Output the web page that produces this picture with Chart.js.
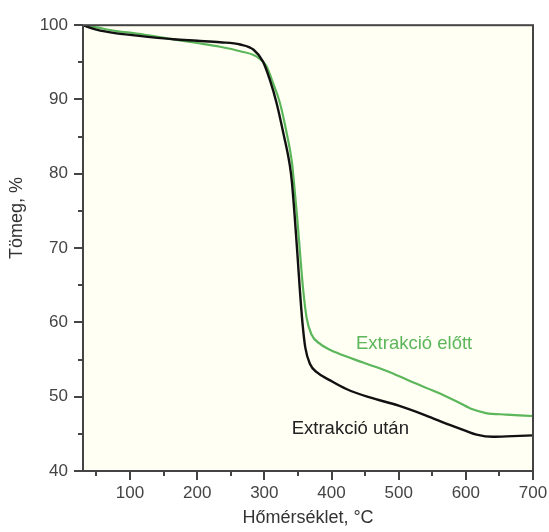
<!DOCTYPE html>
<html>
<head>
<meta charset="utf-8">
<script src="https://cdn.jsdelivr.net/npm/chart.js@4.4.1/dist/chart.umd.min.js"></script>
<style>
html,body{margin:0;padding:0;background:#fff;}
#wrap{width:549px;height:532px;position:relative;}
</style>
</head>
<body>
<div id="wrap"><canvas id="c" width="549" height="532"></canvas></div>
<script>
// Data (temperature °C, mass %)
const tempAfter = [30,50,80,100,130,165,200,234,264,284,298,308,318,328,338,341,345,349,353,357,361,368,378,398,423,457,500,540,576,600,616,640,670,700];
const massAfter = [100,99.4,98.9,98.7,98.4,98.1,97.9,97.7,97.4,96.7,95.1,92.7,89.6,85.6,81.1,78.9,74.5,69.5,64.2,59.7,56.6,54.4,53.3,52.2,51.0,49.9,48.8,47.5,46.2,45.4,44.9,44.6,44.7,44.8];
const tempBefore = [30,50,80,100,130,165,200,234,264,288,303,313,323,333,341,344,349,353,358,363,370,383,408,447,487,522,557,590,610,630,660,700];
const massBefore = [100,99.7,99.2,99.0,98.6,98.1,97.6,97.1,96.5,95.8,94.5,92.2,89.6,85.6,81.6,78.9,74.0,69.5,64.2,60.6,58.4,57.1,55.9,54.6,53.3,51.9,50.6,49.2,48.3,47.8,47.6,47.4];
const seriesNames = ["Extrakció után","Extrakció előtt"];
const xMajorTicks = [100,200,300,400,500,600,700];
const xMinorTicks = [50,150,250,350,450,550,650];
const yMajorTicks = [40,50,60,70,80,90,100];
const yMinorTicks = [45,55,65,75,85,95];
const xTitle = "Hőmérséklet, °C";
const yTitle = "Tömeg, %";
// label anchor in data coords
const labelAfterPos = {x:428, y:45.7};
const labelBeforePos = {x:523, y:57.1};

const GREEN = '#5cb65a';
const BLACK = '#111111';
const AXIS = '#444444';
const FONT = 'Liberation Sans, Arial, sans-serif';

const toPts = (xs, ys) => xs.map((x,i)=>({x:x, y:ys[i]}));

const framePlugin = {
  id:'frame',
  beforeDraw(chart){
    const {ctx, chartArea:a} = chart;
    ctx.save();
    ctx.fillStyle = '#fffff4';
    ctx.fillRect(a.left, a.top, a.right-a.left, a.bottom-a.top);
    ctx.restore();
  },
  afterDraw(chart){
    const {ctx, chartArea:a, scales} = chart;
    const xs = scales.x, ys = scales.y;
    ctx.save();
    ctx.strokeStyle = AXIS;
    ctx.lineWidth = 2;
    ctx.strokeRect(a.left, a.top, a.right-a.left, a.bottom-a.top);
    ctx.beginPath();
    xMajorTicks.forEach(v=>{const p=Math.round(xs.getPixelForValue(v)); ctx.moveTo(p,a.bottom); ctx.lineTo(p,a.bottom+9);});
    xMinorTicks.forEach(v=>{const p=Math.round(xs.getPixelForValue(v)); ctx.moveTo(p,a.bottom); ctx.lineTo(p,a.bottom+5);});
    yMajorTicks.forEach(v=>{const p=Math.round(ys.getPixelForValue(v)); ctx.moveTo(a.left,p); ctx.lineTo(a.left-9,p);});
    yMinorTicks.forEach(v=>{const p=Math.round(ys.getPixelForValue(v)); ctx.moveTo(a.left,p); ctx.lineTo(a.left-5,p);});
    ctx.stroke();
    // series labels
    ctx.font = '18.5px ' + FONT;
    ctx.textAlign = 'center';
    ctx.textBaseline = 'middle';
    ctx.fillStyle = '#222';
    ctx.fillText(seriesNames[0], xs.getPixelForValue(labelAfterPos.x), ys.getPixelForValue(labelAfterPos.y));
    ctx.fillStyle = GREEN;
    ctx.fillText(seriesNames[1], xs.getPixelForValue(labelBeforePos.x), ys.getPixelForValue(labelBeforePos.y));
    // y title
    ctx.font = '18px ' + FONT;
    ctx.fillStyle = '#333';
    ctx.translate(17, 218);
    ctx.rotate(-Math.PI/2);
    ctx.fillText(yTitle, 0, 0);
    ctx.restore();
  }
};

new Chart(document.getElementById('c'), {
  type:'line',
  data:{
    datasets:[
      {label:seriesNames[1], data:toPts(tempBefore, massBefore), borderColor:GREEN, borderWidth:2.2, pointRadius:0, cubicInterpolationMode:'monotone', fill:false, order:2},
      {label:seriesNames[0], data:toPts(tempAfter, massAfter), borderColor:BLACK, borderWidth:2.4, pointRadius:0, cubicInterpolationMode:'monotone', fill:false, order:1}
    ]
  },
  options:{
    responsive:false,
    animation:false,
    events:[],
    layout:{padding:{top:22, right:0, left:0, bottom:0}},
    plugins:{legend:{display:false}, tooltip:{enabled:false}},
    scales:{
      x:{
        type:'linear', min:30, max:700,
        afterFit(s){ s.height = 61; s.paddingRight = 16; },
        afterBuildTicks(s){ s.ticks = xMajorTicks.map(v=>({value:v})); },
        grid:{display:false, drawTicks:false},
        border:{display:false},
        ticks:{padding:12, color:'#444', font:{family:FONT, size:17}, maxRotation:0},
        title:{display:true, text:xTitle, color:'#333', font:{family:FONT, size:18}, padding:{top:0,bottom:3}}
      },
      y:{
        type:'linear', min:40, max:100,
        afterFit(s){ s.width = 83; },
        afterBuildTicks(s){ s.ticks = yMajorTicks.map(v=>({value:v})); },
        grid:{display:false, drawTicks:false},
        border:{display:false},
        ticks:{padding:15, color:'#444', font:{family:FONT, size:17}},
        title:{display:false}
      }
    }
  },
  plugins:[framePlugin]
});
</script>
</body>
</html>
